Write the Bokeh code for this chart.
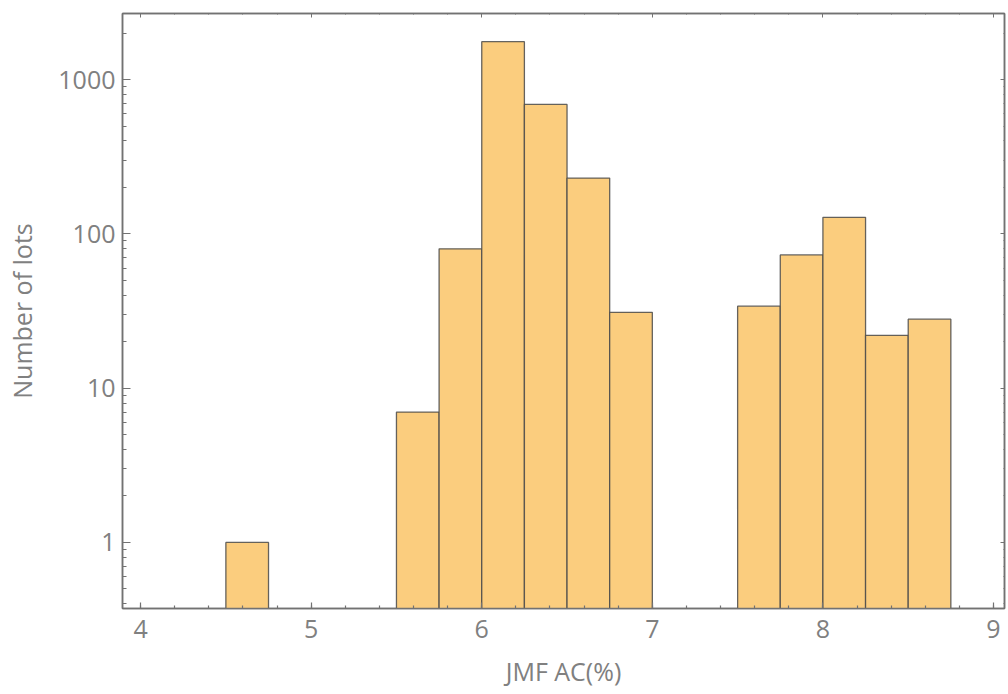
from bokeh.plotting import figure
from bokeh.models import (Range1d, LinearAxis, LogAxis, BasicTicker, LogTicker,
                          PrintfTickFormatter, CustomLabelingPolicy)
from bokeh.embed import file_html
from bokeh.resources import INLINE

# Histogram data (bin edges, counts)
bin_left = [4.5, 5.5, 5.75, 6.0, 6.25, 6.5, 6.75, 7.5, 7.75, 8.0, 8.25, 8.5]
bin_right = [4.75, 5.75, 6.0, 6.25, 6.5, 6.75, 7.0, 7.75, 8.0, 8.25, 8.5, 8.75]
counts = [1, 7, 80, 1760, 690, 230, 31, 34, 73, 128, 22, 28]

x_label = "JMF AC(%)"
y_label = "Number of lots"

FONT = "Open Sans"
GRAY = "#727272"
TXT = "#808080"

p = figure(width=1008, height=694, y_axis_type="log",
           x_range=Range1d(3.894, 9.0645), y_range=Range1d(0.373, 2680),
           output_backend="svg", toolbar_location=None,
           min_border_left=122, min_border_right=4,
           min_border_top=13, min_border_bottom=86)

p.quad(left=bin_left, right=bin_right, top=counts, bottom=[0.01] * len(counts),
       fill_color="#FBCD7E", line_color="#4a4a4a", line_alpha=0.85, line_width=1.3)

p.xgrid.visible = False
p.ygrid.visible = False
p.outline_line_color = GRAY
p.outline_line_width = 1.5

for ax in [p.xaxis[0], p.yaxis[0]]:
    ax.axis_line_color = GRAY
    ax.axis_line_width = 1.5
    ax.major_tick_line_color = GRAY
    ax.minor_tick_line_color = GRAY
    ax.major_tick_line_width = 1.2
    ax.minor_tick_line_width = 1.2
    ax.major_tick_out = 0
    ax.minor_tick_out = 0
    ax.major_label_text_font = FONT
    ax.major_label_text_color = TXT
    ax.major_label_text_font_size = "25px"
    ax.axis_label_text_font = FONT
    ax.axis_label_text_color = TXT
    ax.axis_label_text_font_size = "25px"
    ax.axis_label_text_font_style = "normal"

p.xaxis[0].ticker = BasicTicker(desired_num_ticks=6, num_minor_ticks=5)
p.xaxis[0].major_tick_in = 6
p.xaxis[0].minor_tick_in = 3
p.xaxis[0].major_label_standoff = 11
p.xaxis[0].axis_label = x_label
p.xaxis[0].axis_label_standoff = 13

p.yaxis[0].ticker = LogTicker(num_minor_ticks=10)
p.yaxis[0].formatter = PrintfTickFormatter(format="%d")
p.yaxis[0].major_tick_in = 8
p.yaxis[0].minor_tick_in = 4
p.yaxis[0].major_label_standoff = 7
p.yaxis[0].axis_label = y_label
p.yaxis[0].axis_label_standoff = 16

hide = CustomLabelingPolicy(code="""
try { for (const i of Array.from(indices)) indices.unset(i); return indices }
catch (e) { return [] }
""")

top = LinearAxis(ticker=BasicTicker(desired_num_ticks=6, num_minor_ticks=5))
right = LogAxis(ticker=LogTicker(num_minor_ticks=10))
for ax in [top, right]:
    ax.axis_line_color = GRAY
    ax.axis_line_width = 1.5
    ax.major_tick_line_color = GRAY
    ax.minor_tick_line_color = GRAY
    ax.major_tick_out = 0
    ax.minor_tick_out = 0
    ax.major_tick_in = 4
    ax.minor_tick_in = 1
    ax.major_label_policy = hide
    ax.major_label_text_font_size = "1px"
    ax.major_label_standoff = 0
p.add_layout(top, "above")
p.add_layout(right, "right")

open("out.html", "w").write(file_html(p, INLINE))
